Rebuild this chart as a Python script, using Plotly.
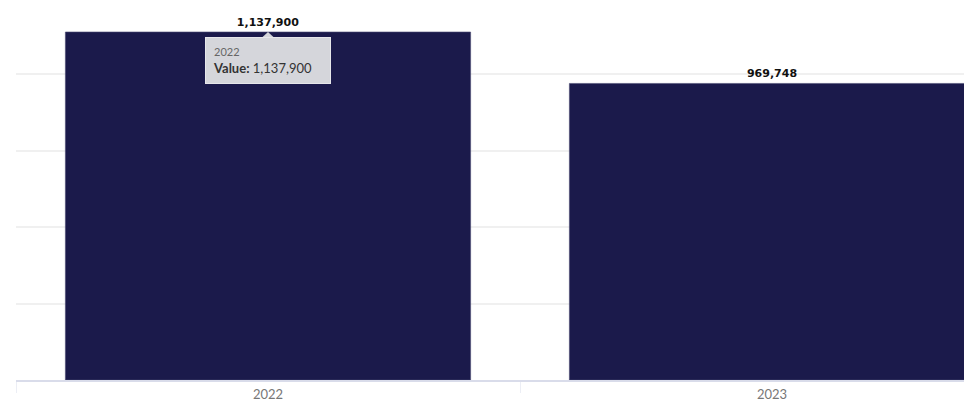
import plotly.graph_objects as go

categories = ["2022", "2023"]
values = [1137900, 969748]
tooltip_label = "Value"

BAR = "#1b1a4b"
FONT = "Lato, 'Open Sans', sans-serif"
LABEL_FONT = "'DejaVu Sans', sans-serif"
TIP_BG = "#d5d6db"

fig = go.Figure()
fig.add_trace(go.Bar(
    x=categories, y=values,
    marker=dict(color=BAR, line=dict(color="#4a4a72", width=0.6)),
    texttemplate="<b>%{y:,}</b>", textposition="outside",
    textfont=dict(family=LABEL_FONT, size=11, color="#111111"),
    cliponaxis=False, hoverinfo="skip",
))

# tooltip for the first bar (category axes take the category index)
tip_idx = categories.index("2022")
fig.add_annotation(
    x=tip_idx, y=values[tip_idx], xref="x", yref="y",
    yanchor="top", xanchor="center", yshift=-5, showarrow=False,
    text=(f"<span style='font-size:11px;color:#666666'>{categories[tip_idx]}</span><br>"
          f"<b>{tooltip_label}:</b> {values[tip_idx]:,}"),
    align="left", bgcolor=TIP_BG, bordercolor="#e6e6ea", borderwidth=1,
    borderpad=7, width=110,
    font=dict(family=FONT, size=13, color="#333333"),
)
fig.add_shape(
    type="path", xref="x", yref="y", xsizemode="pixel", ysizemode="pixel",
    xanchor=tip_idx, yanchor=values[tip_idx],
    path="M -6 -5.5 L 0 0 L 6 -5.5 Z",
    fillcolor=TIP_BG, line=dict(width=0), layer="above",
)

fig.update_layout(
    width=972, height=401,
    margin=dict(l=8, r=0, t=0, b=29),
    paper_bgcolor="white", plot_bgcolor="white",
    bargap=0.196, showlegend=False,
    font=dict(family=FONT),
    xaxis=dict(
        range=[-0.5, 1.4127], type="category",
        showline=True, linecolor="#d9dcea", linewidth=1.5,
        ticks="outside", tickson="boundaries", ticklen=11, tickcolor="#eceef5",
        tickfont=dict(size=13, color="#777777", family=FONT),
        ticklabelstandoff=2,
        showgrid=False,
    ),
    yaxis=dict(
        range=[0, 1216400], dtick=250000, showticklabels=False,
        showgrid=True, gridcolor="#f0f0f0", gridwidth=1.5, zeroline=False,
    ),
)

fig.write_html("out.html")
